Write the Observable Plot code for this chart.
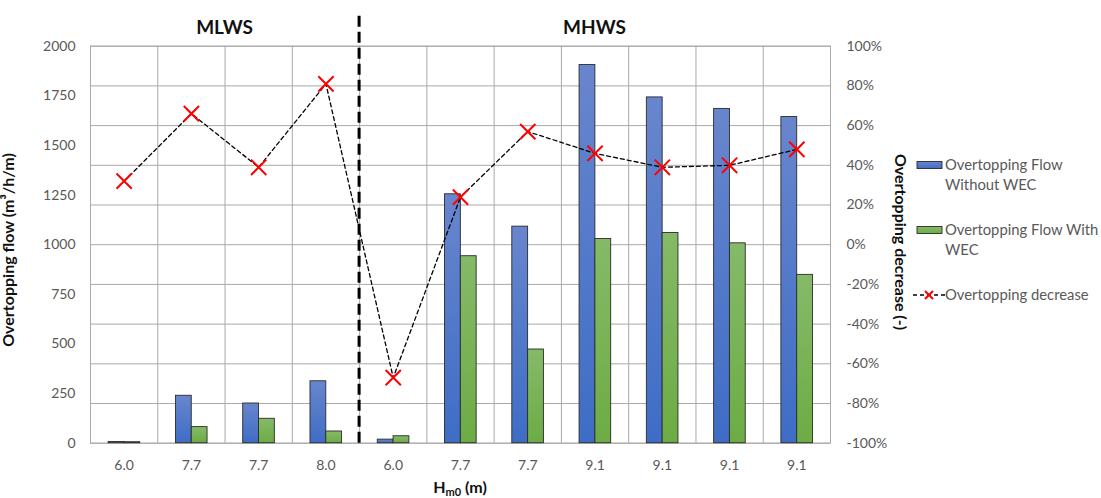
<!DOCTYPE html>
<html><head><meta charset="utf-8">
<script src="https://cdn.jsdelivr.net/npm/d3@7"></script>
<script src="https://cdn.jsdelivr.net/npm/@observablehq/plot@0.6"></script>
<style>body{margin:0;background:#fff;} svg{display:block}</style>
</head><body><div id="chart"></div>
<script>
// ---- data ----
const categories = ["6.0","7.7","7.7","8.0","6.0","7.7","7.7","9.1","9.1","9.1","9.1"];
const flowWithout = [6, 239, 200, 312, 18, 1254, 1091, 1905, 1742, 1684, 1643];
const flowWith = [5, 81, 123, 59, 35, 942, 472, 1029, 1059, 1007, 848];
const decrease = [0.32, 0.66, 0.39, 0.81, -0.67, 0.24, 0.57, 0.46, 0.39, 0.40, 0.48];
const leftTicks = [0, 250, 500, 750, 1000, 1250, 1500, 1750, 2000];
const rightTicks = [-1, -0.8, -0.6, -0.4, -0.2, 0, 0.2, 0.4, 0.6, 0.8, 1];
const groupLabels = ["MLWS", "MHWS"];
const groupStarts = [0, 4];
const groupEnds = [4, 11];
const seriesNames = ["Overtopping Flow Without WEC", "Overtopping Flow With WEC", "Overtopping decrease"];
const yTitle = "Overtopping flow (m³/h/m)";
const y2Title = "Overtopping decrease (-)";

// ---- helpers ----
const yMax = 2000;
const toFlow = p => (p + 1) / 2 * yMax; // map secondary (-100%..100%) onto primary domain
const idx = d3.range(categories.length);
const gridColor = "#a9a9a9";
const textColor = "#595959";
const font = "Lato, 'Open Sans', sans-serif";
const titleSize = 16;

const plot = Plot.plot({
  width: 1101, height: 498,
  marginLeft: 90, marginRight: 271, marginTop: 45.7, marginBottom: 55.3,
  style: {fontFamily: font, fontSize: "14px", color: textColor, background: "white", overflow: "visible"},
  x: {type: "linear", domain: [0, categories.length]},
  y: {domain: [0, yMax]},
  marks: [
    Plot.gridY(rightTicks.map(toFlow), {stroke: gridColor, strokeOpacity: 1, strokeWidth: 1}),
    Plot.gridX(d3.range(categories.length + 1), {stroke: gridColor, strokeOpacity: 1, strokeWidth: 1}),
    Plot.frame({stroke: gridColor, strokeWidth: 1}),
    Plot.rect(idx, {x1: i => i + 0.27, x2: i => i + 0.505, y1: 0, y2: i => flowWithout[i],
      fill: "url(#gradBlue)", stroke: "#2b2b2b", strokeWidth: 0.9}),
    Plot.rect(idx, {x1: i => i + 0.505, x2: i => i + 0.74, y1: 0, y2: i => flowWith[i],
      fill: "url(#gradGreen)", stroke: "#2b2b2b", strokeWidth: 0.9}),
    Plot.line(idx, {x: i => i + 0.5, y: i => toFlow(decrease[i]), stroke: "black",
      strokeWidth: 1.3, strokeDasharray: "4,3"}),
    Plot.dot(idx, {x: i => i + 0.5, y: i => toFlow(decrease[i]), symbol: "times", r: 7,
      stroke: "#ff0000", strokeWidth: 2}),
    Plot.axisY(leftTicks, {anchor: "left", tickSize: 0, tickPadding: 15, label: null,
      tickFormat: d => String(d)}),
    Plot.axisY(rightTicks.map(toFlow), {anchor: "right", tickSize: 0, tickPadding: 16, label: null,
      tickFormat: v => Math.round((v / yMax * 2 - 1) * 100) + "%"}),
    Plot.axisX(idx.map(i => i + 0.5), {tickSize: 0, tickPadding: 17, label: null,
      tickFormat: v => categories[Math.floor(v)]})
  ]
});

const svg = d3.select(plot);
const defs = svg.insert("defs", ":first-child");
function grad(id, top, bottom) {
  const g = defs.append("linearGradient").attr("id", id).attr("x1", 0).attr("y1", 0).attr("x2", 0).attr("y2", 1);
  g.append("stop").attr("offset", "0%").attr("stop-color", top);
  g.append("stop").attr("offset", "100%").attr("stop-color", bottom);
}
grad("gradBlue", "#6886cd", "#3e6dc6");
grad("gradGreen", "#85ba68", "#6dac44");

const xs = plot.scale("x");
const ys = plot.scale("y");
const ann = svg.append("g").attr("font-family", font);

// separator between groups (extends above the plot area)
ann.append("line").attr("x1", xs.apply(groupStarts[1])).attr("x2", xs.apply(groupStarts[1]))
  .attr("y1", ys.apply(0)).attr("y2", 12)
  .attr("stroke", "black").attr("stroke-width", 3).attr("stroke-dasharray", "11,5");

// group titles
groupLabels.forEach((lab, k) => {
  ann.append("text").attr("x", xs.apply((groupStarts[k] + groupEnds[k]) / 2)).attr("y", 34)
    .attr("text-anchor", "middle").attr("font-size", 19).attr("font-weight", "bold")
    .attr("fill", "#111").text(lab);
});

// axis titles
ann.append("text").attr("transform", "translate(14,250) rotate(-90)").attr("text-anchor", "middle")
  .attr("font-size", titleSize).attr("font-weight", "bold").attr("fill", "#111").text(yTitle);
ann.append("text").attr("transform", "translate(895,242) rotate(90)").attr("text-anchor", "middle")
  .attr("font-size", titleSize).attr("font-weight", "bold").attr("fill", "#111").text(y2Title);
const xt = ann.append("text").attr("x", 460).attr("y", 493).attr("text-anchor", "middle")
  .attr("font-size", titleSize).attr("font-weight", "bold").attr("fill", "#111");
xt.append("tspan").text("H");
xt.append("tspan").attr("font-size", 11).attr("dy", 3).text("m0");
xt.append("tspan").attr("dy", -3).text(" (m)");

// legend
const lg = ann.append("g").attr("font-size", 14.8).attr("fill", textColor).attr("text-anchor", "start");
lg.append("rect").attr("x", 917).attr("y", 161.5).attr("width", 25).attr("height", 7)
  .attr("fill", "url(#gradBlue)").attr("stroke", "#2b2b2b").attr("stroke-width", 0.9);
lg.append("text").attr("x", 945).attr("y", 170).text("Overtopping Flow");
lg.append("text").attr("x", 945).attr("y", 189.5).text("Without WEC");
lg.append("rect").attr("x", 917).attr("y", 226.5).attr("width", 25).attr("height", 7)
  .attr("fill", "url(#gradGreen)").attr("stroke", "#2b2b2b").attr("stroke-width", 0.9);
lg.append("text").attr("x", 945).attr("y", 235).text("Overtopping Flow With");
lg.append("text").attr("x", 945).attr("y", 254.5).text("WEC");
lg.append("line").attr("x1", 913).attr("x2", 945).attr("y1", 295).attr("y2", 295)
  .attr("stroke", "black").attr("stroke-width", 1.3).attr("stroke-dasharray", "4,3");
lg.append("path").attr("d", "M925,291L933,299M925,299L933,291").attr("stroke", "#ff0000").attr("stroke-width", 2);
lg.append("text").attr("x", 945).attr("y", 300).text("Overtopping decrease");

document.getElementById("chart").appendChild(plot);
</script>
</body></html>
